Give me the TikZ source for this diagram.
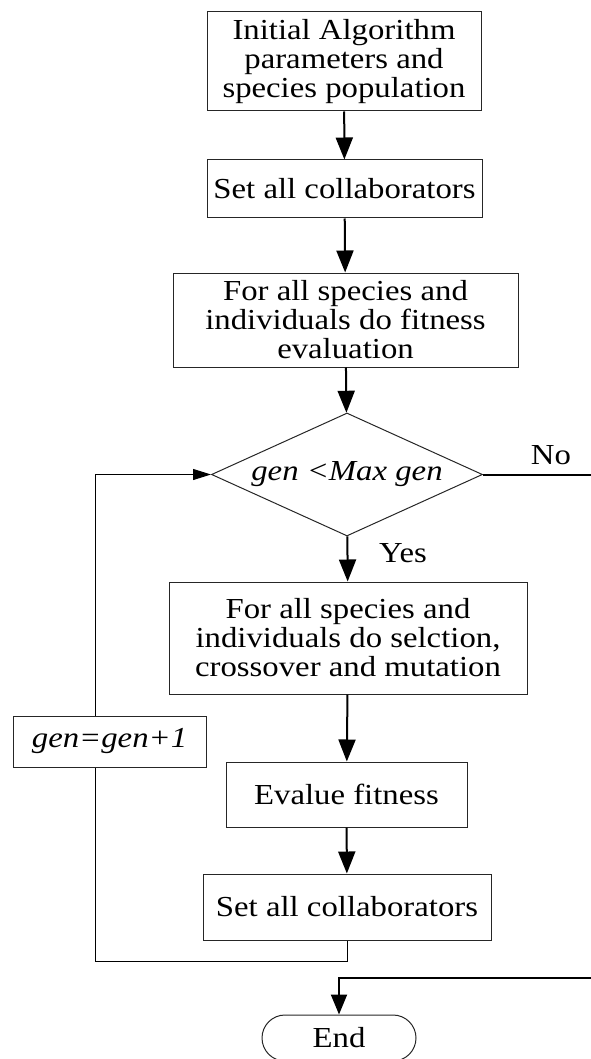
\documentclass[tikz,border=0pt]{standalone}
\usepackage{fontspec}
\setmainfont{Liberation Serif}[FakeStretch=1.13]
\usetikzlibrary{arrows.meta,shapes.geometric}
\begin{document}
\begin{tikzpicture}[x=0.5pt,y=-0.5pt,
  font=\fontsize{14.5}{14.5}\selectfont,
  box/.style={draw=black!85, line width=0.5pt, align=center, inner sep=0pt},
  flow/.style={line width=1pt, -{Triangle[length=11pt,width=8.5pt]}},
  thinline/.style={line width=0.5pt},
]
\useasboundingbox (0,0) rectangle (590,1059);

% process boxes
\node[box, minimum width=137pt, minimum height=49.5pt] (init) at (344,61.5)
  {Initial Algorithm\\parameters and\\species population};
\node[box, minimum width=137.5pt, minimum height=29pt] (set1) at (344.5,189)
  {Set all collaborators};
\node[box, minimum width=172.5pt, minimum height=47pt] (fit1) at (345.5,320)
  {For all species and\\individuals do fitness\\evaluation};
\node[box, shape=diamond, aspect=2.2, minimum width=135.5pt, minimum height=61.5pt] (dia) at (347,474.5)
  {\textit{gen <Max gen}};
\node[box, minimum width=179pt, minimum height=56pt] (sel) at (348,638)
  {For all species and\\individuals do selction,\\crossover and mutation};
\node[box, minimum width=96.5pt, minimum height=25.5pt] (gen) at (109.5,741.5)
  {\textit{gen=gen+1}};
\node[box, minimum width=120.5pt, minimum height=32.5pt] (eval) at (346.5,794.5)
  {Evalue fitness};
\node[box, minimum width=144pt, minimum height=33pt] (set2) at (347,907)
  {Set all collaborators};
\node[box, minimum width=77pt, minimum height=23pt, rounded corners=11.5pt] (endn) at (339,1038)
  {End};

% branch labels
\node (no) at (551,455) {No};
\node (yes) at (403,553) {Yes};

% main flow
\draw[flow] (init) -- (set1);
\draw[flow] (set1) -- (fit1);
\draw[flow] (fit1) -- (dia);
\draw[flow] (dia) -- (sel);
\draw[flow] (sel) -- (eval);
\draw[flow] (eval) -- (set2);

% loop back through the generation counter
\coordinate (lx) at (95,961);
\draw[thinline] (set2.south) |- (lx) -- (gen.south -| lx);
\draw[thinline, -{Triangle[length=9pt,width=5.5pt]}] (gen.north -| lx) |- (dia.west);

% exit branch
\coordinate (rx) at (600,978);
\draw[line width=1pt, -{Triangle[length=10pt,width=8pt]}] (dia.east) -| (rx) -| (endn.north);
\end{tikzpicture}
\end{document}
